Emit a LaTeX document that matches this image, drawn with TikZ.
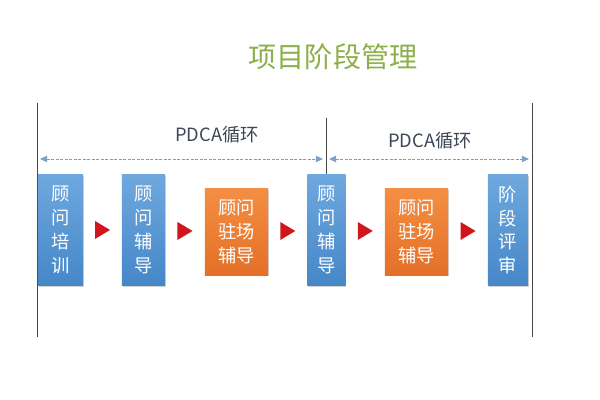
\documentclass[tikz,border=0pt]{standalone}
\usepackage{fontspec}
\setmainfont{Noto Sans CJK SC}
\usepackage{tikz}
\usetikzlibrary{arrows.meta,shadows,calc}
\usepackage{xcolor}
\definecolor{titlegreen}{RGB}{140,175,72}
\definecolor{bluetop}{RGB}{110,168,222}
\definecolor{bluebot}{RGB}{70,135,200}
\definecolor{orangetop}{RGB}{244,142,66}
\definecolor{orangebot}{RGB}{228,112,40}
\definecolor{pointred}{RGB}{208,22,28}
\definecolor{linegray}{RGB}{70,70,70}
\definecolor{spanblue}{RGB}{125,160,200}
\definecolor{labelgray}{RGB}{60,70,85}

\begin{document}
\begin{tikzpicture}[
    x=0.025cm, y=-0.025cm,
    stage/.style={rectangle, top color=bluetop, bottom color=bluebot, text=white,
        align=center, inner sep=0pt, font=\fontsize{13}{17}\selectfont,
        minimum width=1.1cm, minimum height=2.775cm,
        drop shadow={opacity=0.35, shadow xshift=0.7pt, shadow yshift=-0.9pt}},
    onsite/.style={stage, top color=orangetop, bottom color=orangebot,
        minimum width=1.575cm, minimum height=2.15cm},
    boundary/.style={draw=linegray, line width=0.7pt},
    span/.style={draw=spanblue, dash pattern=on 2pt off 1.2pt, line width=0.6pt,
        {Triangle[length=5pt,width=4.5pt]}-{Triangle[length=5pt,width=4.5pt]}},
    cyclelabel/.style={text=labelgray, font=\fontsize{13}{15}\selectfont}
]
    \useasboundingbox (0,0) rectangle (600,400);

    % title
    \node[text=titlegreen, font=\fontsize{20}{24}\selectfont] (title) at (333,57) {项目阶段管理};

    % boundaries of the two cycles
    \coordinate (ltop) at (37,103);
    \coordinate (lbot) at (37,337);
    \coordinate (mtop) at (326,118);
    \coordinate (rtop) at (532,103);
    \coordinate (rbot) at (532,337);
    \draw[boundary] (ltop) -- (lbot);
    \draw[boundary] (rtop) -- (rbot);

    % cycle spans
    \coordinate (s1a) at (40,159);
    \coordinate (s1b) at (323,159);
    \coordinate (s2a) at (329,159);
    \coordinate (s2b) at (529,159);
    \draw[span] (s1a) -- (s1b);
    \draw[span] (s2a) -- (s2b);
    \node[cyclelabel] (c1) at (217,135) {PDCA循环};
    \node[cyclelabel] (c2) at (430,141) {PDCA循环};

    % stages
    \node[stage, minimum width=1.125cm] (train) at (60.5,230) {顾\\问\\培\\训};
    \node[stage, minimum width=1.075cm] (coach) at (143.5,230) {顾\\问\\辅\\导};
    \node[onsite] (site1) at (236.5,232) {顾问\\驻场\\辅导};
    \node[stage, minimum width=0.95cm] (coach2) at (326.5,230) {顾\\问\\辅\\导};
    \node[onsite] (site2) at (416.5,232) {顾问\\驻场\\辅导};
    \node[stage, minimum width=1.0cm] (review) at (508,230) {阶\\段\\评\\审};
    \draw[boundary] (mtop) -- (coach2.north -| mtop);

    % pointers between stages
    \foreach \a/\b in {train/coach, coach/site1, site1/coach2, coach2/site2, site2/review}
        \fill[pointred] ($(\a.east)!0.5!(\b.west)$) ++(-7.5,-9) -- ++(15,9) -- ++(-15,9) -- cycle;
\end{tikzpicture}
\end{document}
